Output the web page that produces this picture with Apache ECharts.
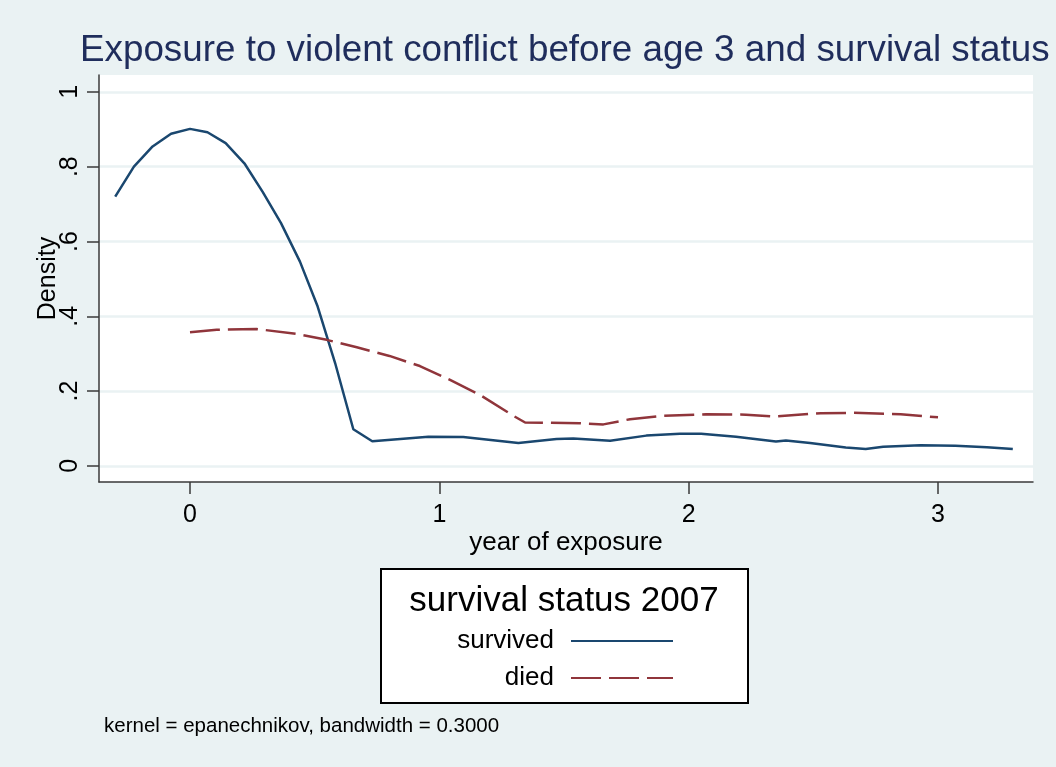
<!DOCTYPE html>
<html>
<head>
<meta charset="utf-8">
<title>Exposure to violent conflict before age 3 and survival status</title>
<script src="https://cdn.jsdelivr.net/npm/echarts@6/dist/echarts.min.js"></script>
<style>
  html, body { margin: 0; padding: 0; background: #eaf2f3; }
  #chart { width: 1056px; height: 767px; }
</style>
</head>
<body>
<div id="chart"></div>
<script>
// kernel density estimates
var survivedX = [-0.30, -0.225, -0.15, -0.076, 0.0, 0.07, 0.143, 0.218, 0.292, 0.365, 0.441, 0.512, 0.582, 0.655, 0.731,
  0.956, 1.096, 1.317, 1.47, 1.537, 1.685, 1.83, 1.965, 2.05, 2.19, 2.35, 2.39, 2.487, 2.63, 2.71, 2.78, 2.93, 3.07, 3.196, 3.30];
var survivedY = [0.720, 0.800, 0.854, 0.888, 0.901, 0.892, 0.863, 0.809, 0.732, 0.649, 0.546, 0.426, 0.275, 0.098, 0.066,
  0.078, 0.077, 0.061, 0.072, 0.073, 0.067, 0.081, 0.086, 0.086, 0.078, 0.065, 0.068, 0.061, 0.049, 0.045, 0.051, 0.055, 0.054, 0.050, 0.045];
var diedX = [0.0, 0.107, 0.267, 0.428, 0.548, 0.669, 0.80, 0.922, 1.043, 1.163, 1.297, 1.344,
  1.564, 1.658, 1.765, 1.90, 2.07, 2.23, 2.34, 2.53, 2.66, 2.85, 3.0];
var diedY = [0.357, 0.364, 0.366, 0.353, 0.337, 0.317, 0.294, 0.267, 0.230, 0.190, 0.134, 0.116,
  0.114, 0.111, 0.125, 0.134, 0.138, 0.137, 0.132, 0.141, 0.142, 0.138, 0.130];
var xTicks = [0, 1, 2, 3];
var yTicks = [0, 0.2, 0.4, 0.6, 0.8, 1];

function pairs(xs, ys) {
  var out = [];
  for (var i = 0; i < xs.length; i++) out.push([xs[i], ys[i]]);
  return out;
}

var font = 'Liberation Sans, Arial, sans-serif';
var axisColor = '#3a3a3a';
var myChart = echarts.init(document.getElementById('chart'));

function legendFor(name, top) {
  return {
    data: [name],
    orient: 'vertical',
    align: 'right',
    right: 382,
    top: top,
    padding: 0,
    itemWidth: 102,
    itemHeight: 14,
    selectedMode: false,
    itemStyle: { opacity: 0 },
    textStyle: { color: '#000', fontSize: 26, fontFamily: font, padding: [0, 12, 0, 0] }
  };
}

var option = {
  backgroundColor: '#eaf2f3',
  textStyle: { fontFamily: font },
  title: {
    text: 'Exposure to violent conflict before age 3 and survival status',
    left: 80,
    top: 32,
    padding: 0,
    textStyle: { color: '#1f2d5c', fontSize: 36.8, fontWeight: 'normal', fontFamily: font }
  },
  grid: {
    left: 99, right: 23, top: 75, bottom: 285,
    show: true, backgroundColor: '#ffffff', borderWidth: 0,
    containLabel: false
  },
  xAxis: {
    type: 'value',
    min: -0.365,
    max: 3.381,
    name: 'year of exposure',
    nameLocation: 'middle',
    nameGap: 48,
    nameMoveOverlap: false,
    nameTextStyle: { color: '#000', fontSize: 26, fontFamily: font },
    axisLine: { show: true, onZero: false, lineStyle: { color: axisColor, width: 1.5 } },
    axisTick: { show: true, length: 12, customValues: xTicks, lineStyle: { color: axisColor, width: 1.5 } },
    axisLabel: { customValues: xTicks, margin: 21, color: '#000', fontSize: 25, fontFamily: font },
    splitLine: { show: false }
  },
  yAxis: {
    type: 'value',
    min: -0.043,
    max: 1.045,
    name: 'Density',
    nameLocation: 'middle',
    nameRotate: 90,
    nameGap: 38,
    nameMoveOverlap: false,
    nameTextStyle: { color: '#000', fontSize: 25, fontFamily: font },
    axisLine: { show: true, onZero: false, lineStyle: { color: axisColor, width: 1.5 } },
    axisTick: { show: true, length: 12, customValues: yTicks, lineStyle: { color: axisColor, width: 1.5 } },
    axisLabel: {
      customValues: yTicks, rotate: 90, margin: 16, color: '#000', fontSize: 25, fontFamily: font,
      formatter: function (v) {
        if (v === 0) return '0';
        if (v === 1) return '1';
        return String(Math.round(v * 10) / 10).replace(/^0/, '');
      }
    },
    splitLine: { show: true, lineStyle: { color: '#eaf2f3', width: 2.5 } }
  },
  legend: [legendFor('survived', 628), legendFor('died', 665)],
  graphic: [
    {
      type: 'rect',
      z: -1,
      shape: { x: 381, y: 569, width: 367, height: 134 },
      style: { fill: '#ffffff', stroke: '#000000', lineWidth: 2 }
    },
    {
      type: 'text',
      x: 564,
      y: 601,
      style: {
        text: 'survival status 2007',
        fill: '#000', fontSize: 35, fontFamily: font,
        textAlign: 'center', textVerticalAlign: 'middle'
      }
    },
    {
      type: 'text',
      x: 104,
      y: 726,
      style: {
        text: 'kernel = epanechnikov, bandwidth = 0.3000',
        fill: '#000', fontSize: 20.5, fontFamily: font,
        textAlign: 'left', textVerticalAlign: 'middle'
      }
    }
  ],
  series: [
    {
      name: 'survived',
      type: 'line',
      data: pairs(survivedX, survivedY),
      symbol: 'none',
      smooth: false,
      lineStyle: { color: '#1a476f', width: 2.5 },
      itemStyle: { color: '#1a476f' }
    },
    {
      name: 'died',
      type: 'line',
      data: pairs(diedX, diedY),
      symbol: 'none',
      smooth: false,
      lineStyle: { color: '#90353b', width: 2.5, type: [30, 8] },
      itemStyle: { color: '#90353b' }
    }
  ]
};

myChart.setOption(option);
window.addEventListener('resize', function () {
  myChart.resize();
});
</script>
</body>
</html>
